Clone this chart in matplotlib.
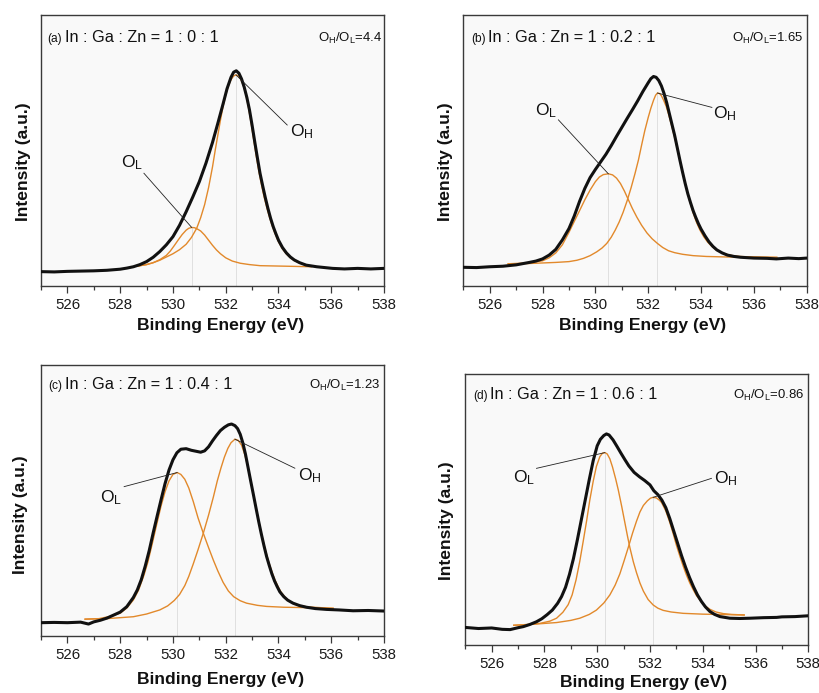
import matplotlib
matplotlib.use("Agg")
import matplotlib.pyplot as plt
from matplotlib import font_manager, transforms
from matplotlib.ticker import MultipleLocator, NullLocator

# ---------------------------------------------------------------- data
# O 1s XPS spectra of IGZO films; energies in eV, intensities in a.u.

# (a) In:Ga:Zn = 1:0:1
A_E = [525.0, 525.5, 526.0, 526.5, 527.0, 527.5, 528.0, 528.25, 528.5, 528.75,
       529.0, 529.25, 529.5, 529.75, 530.0, 530.25, 530.5, 530.75, 531.0, 531.25,
       531.5, 531.7, 531.9, 532.05, 532.2, 532.3, 532.4, 532.5, 532.6, 532.7,
       532.8, 532.9, 533.0, 533.1, 533.2, 533.3, 533.4, 533.5, 533.6, 533.7,
       533.8, 533.9, 534.0, 534.15, 534.3, 534.45, 534.6, 534.8, 535.05, 535.45,
       536.05, 536.5, 537.0, 537.5, 538.0]
A_I = [5.3, 5.2, 5.4, 5.5, 5.6, 5.8, 6.2, 6.6, 7.1, 7.9,
       9.0, 10.6, 12.7, 15.2, 18.2, 22.4, 27.4, 32.8, 38.5, 45.3,
       53.0, 60.0, 67.2, 72.8, 77.0, 78.9, 79.4, 78.5, 76.4, 73.4,
       69.6, 65.0, 59.3, 53.2, 47.3, 41.6, 37.0, 32.6, 28.6, 25.0,
       21.9, 19.3, 16.9, 14.2, 12.2, 10.7, 9.6, 8.6, 7.7, 7.1,
       6.5, 6.3, 6.5, 6.3, 6.5]
A_OL_E = [528.69, 529.0, 529.25, 529.5, 529.75, 529.9, 530.05, 530.2, 530.35, 530.5,
          530.6, 530.71, 530.82, 530.93, 531.05, 531.2, 531.35, 531.5, 531.65, 531.8,
          532.0, 532.25, 532.55, 532.9, 533.3, 534.3, 535.25]
A_OL_I = [7.4, 7.9, 8.6, 9.7, 11.3, 12.9, 14.9, 17.0, 19.0, 20.6,
          21.3, 21.6, 21.5, 21.0, 20.3, 18.8, 16.9, 15.0, 13.3, 11.9,
          10.4, 9.2, 8.4, 7.9, 7.5, 7.3, 7.1]
A_OH_E = [528.69, 529.0, 529.25, 529.5, 529.75, 530.0, 530.25, 530.5, 530.7, 530.9,
          531.05, 531.2, 531.35, 531.5, 531.6, 531.7, 531.8, 531.9, 532.0, 532.1,
          532.2, 532.3, 532.39, 532.48, 532.57, 532.66, 532.75, 532.85, 532.95, 533.05,
          533.15, 533.25, 533.35, 533.45, 533.55, 533.65, 533.75, 533.85, 534.0, 534.15,
          534.3, 534.45, 534.6, 534.8, 535.0, 535.25]
A_OH_I = [7.4, 7.9, 8.6, 9.5, 10.7, 11.9, 13.4, 15.4, 17.9, 21.3,
          25.2, 30.0, 36.3, 44.0, 50.0, 55.6, 61.2, 66.3, 70.5, 73.8,
          76.1, 77.5, 77.9, 77.5, 76.3, 74.2, 71.2, 66.6, 60.8, 54.6,
          48.4, 42.6, 37.6, 33.1, 29.2, 25.7, 22.5, 19.8, 16.3, 13.7,
          11.8, 10.4, 9.4, 8.5, 7.9, 7.3]

# (b) In:Ga:Zn = 1:0.2:1
B_E = [525.0, 525.5, 526.0, 526.5, 527.0, 527.5, 527.75, 528.0, 528.25, 528.5,
       528.75, 529.0, 529.2, 529.4, 529.6, 529.8, 530.0, 530.2, 530.4, 530.6,
       530.8, 531.0, 531.2, 531.4, 531.6, 531.8, 532.0, 532.1, 532.2, 532.3,
       532.4, 532.5, 532.6, 532.7, 532.8, 532.9, 533.0, 533.1, 533.2, 533.3,
       533.4, 533.5, 533.6, 533.7, 533.8, 533.9, 534.0, 534.15, 534.3, 534.45,
       534.6, 534.8, 535.0, 535.25, 535.5, 536.0, 536.5, 536.85, 537.3, 537.7, 538.0]
B_I = [6.9, 6.8, 7.1, 7.3, 7.8, 8.7, 9.2, 10.0, 11.4, 13.5,
       17.0, 21.2, 25.8, 31.2, 36.0, 40.0, 43.0, 45.8, 48.6, 51.8,
       55.2, 58.5, 61.8, 65.0, 68.3, 71.8, 75.0, 76.5, 77.3, 77.0,
       75.8, 73.8, 71.0, 67.6, 63.6, 59.6, 55.6, 51.0, 46.4, 42.0,
       37.8, 34.0, 30.8, 27.8, 25.3, 23.0, 21.0, 18.5, 16.3, 14.6,
       13.3, 12.2, 11.4, 10.9, 10.6, 10.3, 10.2, 10.0, 10.3, 10.1, 10.3]
B_OL_E = [526.7, 527.2, 527.6, 528.0, 528.25, 528.5, 528.75, 529.0, 529.2, 529.4,
          529.6, 529.8, 530.0, 530.15, 530.3, 530.49, 530.65, 530.8, 530.95, 531.1,
          531.25, 531.4, 531.57, 531.75, 531.95, 532.15, 532.35, 532.55, 532.77, 533.0,
          533.3, 533.7, 534.2, 535.0, 536.87]
B_OL_I = [8.2, 8.4, 8.7, 9.3, 10.4, 12.2, 15.2, 19.8, 23.8, 27.8,
          31.8, 35.4, 38.5, 40.2, 41.1, 41.4, 41.0, 39.8, 37.8, 35.0,
          31.8, 28.6, 25.4, 22.4, 19.6, 17.4, 15.7, 14.2, 13.0, 12.3,
          11.7, 11.2, 10.9, 10.7, 10.6]
B_OH_E = [526.7, 527.5, 528.0, 528.5, 529.0, 529.3, 529.55, 529.8, 530.05, 530.25,
          530.43, 530.6, 530.75, 530.9, 531.05, 531.2, 531.35, 531.5, 531.63, 531.75,
          531.87, 532.0, 532.1, 532.2, 532.28, 532.35, 532.43, 532.5, 532.58, 532.68,
          532.77, 532.88, 533.0, 533.1, 533.2, 533.33, 533.45, 533.57, 533.7, 533.82,
          533.95, 534.1, 534.25, 534.4, 534.55, 534.71, 534.96, 535.2, 535.47, 536.0, 536.86]
B_OH_I = [8.2, 8.3, 8.5, 8.7, 9.0, 9.5, 10.2, 11.2, 12.6, 14.0,
          15.7, 18.0, 20.6, 23.6, 27.2, 31.4, 36.2, 41.5, 46.5, 52.0,
          57.3, 62.2, 65.6, 68.5, 70.4, 71.2, 71.0, 70.2, 68.6, 66.3,
          63.4, 59.4, 54.8, 50.6, 46.4, 40.8, 35.9, 31.3, 27.0, 23.7,
          20.8, 18.2, 16.2, 14.7, 13.5, 12.6, 11.7, 11.2, 10.9, 10.7, 10.5]

# (c) In:Ga:Zn = 1:0.4:1
C_E = [525.0, 525.5, 526.0, 526.5, 526.8, 527.0, 527.25, 527.5, 527.75, 528.0,
       528.25, 528.5, 528.65, 528.8, 528.95, 529.1, 529.25, 529.4, 529.55, 529.7,
       529.85, 530.0, 530.15, 530.3, 530.5, 530.7, 530.9, 531.05, 531.2, 531.35,
       531.5, 531.65, 531.8, 531.95, 532.1, 532.22, 532.35, 532.45, 532.55, 532.65,
       532.75, 532.85, 532.95, 533.05, 533.15, 533.25, 533.35, 533.45, 533.55, 533.65,
       533.75, 533.85, 533.95, 534.05, 534.2, 534.35, 534.55, 534.8, 535.06, 535.4,
       535.82, 536.3, 536.83, 537.4, 538.0]
C_I = [4.9, 5.0, 4.9, 5.1, 4.4, 5.2, 5.8, 6.6, 7.7, 8.8,
       10.8, 14.2, 17.0, 20.8, 25.8, 31.5, 38.0, 44.2, 50.3, 56.2,
       61.2, 65.0, 67.6, 68.9, 69.1, 68.5, 68.1, 67.8, 68.3, 69.8,
       72.0, 74.0, 75.8, 77.0, 77.9, 78.2, 77.6, 76.5, 74.4, 71.2,
       67.0, 62.0, 57.0, 52.1, 47.1, 42.2, 37.6, 33.3, 29.3, 26.0,
       22.9, 20.3, 18.2, 16.3, 14.5, 13.2, 12.1, 11.2, 10.6, 10.1,
       9.8, 9.6, 9.3, 9.4, 9.2]
C_OL_E = [526.67, 527.2, 527.6, 528.0, 528.25, 528.5, 528.7, 528.9, 529.05, 529.2,
          529.38, 529.55, 529.7, 529.85, 530.0, 530.16, 530.3, 530.45, 530.6, 530.77,
          530.95, 531.15, 531.35, 531.53, 531.7, 531.9, 532.1, 532.3, 532.55, 532.79,
          533.2, 533.55, 534.2, 534.81, 536.07]
C_OL_I = [6.2, 6.4, 7.2, 8.4, 10.3, 13.3, 17.0, 22.4, 27.3, 33.4,
          41.0, 48.0, 53.2, 57.2, 59.6, 60.3, 59.6, 57.8, 54.6, 49.6,
          43.6, 37.9, 32.6, 28.0, 24.0, 19.8, 16.6, 14.5, 13.0, 12.1,
          11.3, 10.9, 10.6, 10.5, 10.2]
C_OH_E = [526.67, 527.5, 528.5, 529.0, 529.5, 529.8, 530.05, 530.25, 530.45, 530.6,
          530.77, 530.95, 531.15, 531.35, 531.53, 531.68, 531.82, 531.95, 532.08, 532.2,
          532.35, 532.47, 532.6, 532.72, 532.85, 532.97, 533.1, 533.23, 533.36, 533.48,
          533.61, 533.74, 533.86, 534.0, 534.11, 534.27, 534.43, 534.6, 534.81, 535.05,
          535.32, 536.07]
C_OH_I = [6.2, 6.4, 7.1, 8.1, 9.6, 11.1, 13.1, 15.3, 18.6, 22.0,
          26.6, 31.8, 37.9, 44.6, 51.2, 57.2, 62.0, 66.0, 69.2, 71.3,
          72.6, 72.2, 70.4, 67.0, 62.0, 56.0, 49.6, 43.4, 37.4, 32.6,
          27.9, 24.0, 20.8, 17.9, 16.0, 14.1, 12.8, 11.9, 11.2, 10.8,
          10.6, 10.2]

# (d) In:Ga:Zn = 1:0.6:1
D_E = [525.0, 525.5, 526.0, 526.4, 526.7, 527.0, 527.2, 527.45, 527.7, 527.9,
       528.1, 528.3, 528.5, 528.65, 528.8, 528.95, 529.1, 529.25, 529.4, 529.55,
       529.7, 529.85, 530.0, 530.12, 530.25, 530.35, 530.45, 530.6, 530.75, 530.9,
       531.05, 531.2, 531.4, 531.6, 531.8, 532.0, 532.15, 532.3, 532.45, 532.6,
       532.75, 532.9, 533.05, 533.2, 533.35, 533.5, 533.65, 533.8, 533.95, 534.1,
       534.27, 534.45, 534.65, 535.03, 535.4, 535.79, 536.3, 536.8, 537.0, 537.5, 538.0]
D_I = [6.6, 6.2, 6.4, 5.9, 5.8, 6.5, 6.9, 7.7, 8.7, 9.8,
       11.3, 13.0, 15.5, 18.0, 21.4, 26.2, 32.0, 39.0, 46.4, 53.8,
       61.2, 68.2, 73.6, 76.0, 77.4, 78.0, 77.6, 75.8, 73.4, 70.9,
       68.5, 66.2, 63.8, 62.2, 60.8, 59.2, 57.0, 55.6, 53.6, 50.8,
       46.8, 42.2, 37.6, 33.0, 28.8, 25.0, 21.6, 18.6, 16.2, 14.2,
       12.5, 11.4, 10.6, 10.0, 9.9, 10.0, 10.2, 10.3, 10.5, 10.6, 10.9]
D_OL_E = [526.84, 527.4, 527.83, 528.2, 528.46, 528.7, 528.9, 529.05, 529.2, 529.34,
          529.47, 529.6, 529.72, 529.85, 529.97, 530.1, 530.2, 530.29, 530.38, 530.48,
          530.58, 530.7, 530.8, 530.93, 531.05, 531.15, 531.24, 531.37, 531.49, 531.62,
          531.75, 531.93, 532.12, 532.3, 532.5, 532.8, 533.26, 534.0, 534.52, 535.57]
D_OL_I = [7.4, 7.7, 8.1, 8.9, 10.0, 12.2, 15.0, 18.6, 24.2, 31.0,
          38.4, 46.0, 53.6, 60.6, 66.0, 69.6, 70.9, 71.1, 70.6, 68.8,
          65.8, 61.4, 57.3, 51.2, 45.2, 40.2, 36.0, 30.8, 26.8, 23.0,
          20.0, 16.9, 14.9, 13.7, 12.9, 12.3, 11.8, 11.5, 11.4, 11.2]
D_OH_E = [526.84, 527.6, 528.46, 529.0, 529.34, 529.7, 529.97, 530.25, 530.48, 530.68,
          530.86, 531.02, 531.18, 531.34, 531.49, 531.62, 531.75, 531.9, 532.02, 532.12,
          532.24, 532.35, 532.44, 532.6, 532.75, 532.88, 533.0, 533.13, 533.26, 533.38,
          533.51, 533.64, 533.76, 533.9, 534.02, 534.15, 534.27, 534.5, 534.78, 535.1, 535.57]
D_OH_I = [7.4, 7.8, 8.4, 9.2, 10.0, 11.4, 13.0, 15.6, 18.6, 22.2,
          26.4, 31.2, 36.2, 41.4, 45.8, 49.2, 51.6, 53.3, 54.3, 54.6,
          54.4, 53.6, 52.7, 49.6, 45.4, 41.2, 37.0, 33.0, 29.2, 26.0,
          23.0, 20.5, 18.4, 16.6, 15.2, 14.1, 13.3, 12.3, 11.7, 11.4, 11.2]

TAGS = ["(a)", "(b)", "(c)", "(d)"]
RATIOS_GA = ["0", "0.2", "0.4", "0.6"]
OH_OL_RATIO = ["4.4", "1.65", "1.23", "0.86"]
X_TICKS = [526, 528, 530, 532, 534, 536, 538]

# ---------------------------------------------------------------- style
names = {f.name for f in font_manager.fontManager.ttflist}
NARROW = "Liberation Sans Narrow" in names
FAMILY = "Liberation Sans Narrow" if NARROW else "Liberation Sans"
K = 1.0 if NARROW else 0.9   # size scale for a wider face

plt.rcParams["font.family"] = [FAMILY, "DejaVu Sans"]
plt.rcParams["mathtext.fontset"] = "custom"
plt.rcParams["mathtext.rm"] = FAMILY
plt.rcParams["mathtext.it"] = FAMILY
plt.rcParams["mathtext.default"] = "regular"

BLACK = "#111111"
ORANGE = "#e2892b"
SPINE = "#3a3a3a"
FACE = "#f9f9f9"

fig = plt.figure(figsize=(8.19, 6.93), dpi=100)
fig.patch.set_facecolor("white")

# axes rectangles [left, bottom, width, height] in figure fractions
rects = [
    [0.0501, 0.5873, 0.4188, 0.3911],
    [0.5657, 0.5873, 0.4193, 0.3911],
    [0.0501, 0.0823, 0.4188, 0.3911],
    [0.5681, 0.0688, 0.4188, 0.3911],
]

series = [
    (A_E, A_I, A_OL_E, A_OL_I, A_OH_E, A_OH_I),
    (B_E, B_I, B_OL_E, B_OL_I, B_OH_E, B_OH_I),
    (C_E, C_I, C_OL_E, C_OL_I, C_OH_E, C_OH_I),
    (D_E, D_I, D_OL_E, D_OL_I, D_OH_E, D_OH_I),
]

# label placement per panel: (text x, text baseline y, line end x, line end y)
ol_labels = [
    (528.86, 43.9, 528.9, 41.6),
    (528.55, 63.1, 528.6, 61.3),
    (528.08, 49.4, 528.15, 55.1),
    (527.64, 60.3, 527.70, 65.3),
]
oh_labels = [
    (534.43, 55.1, 534.33, 59.4),
    (534.46, 62.0, 534.41, 65.9),
    (534.73, 57.6, 534.62, 61.9),
    (534.42, 59.9, 534.33, 61.6),
]
ylabel_pos = [(-0.050, 0.457), (-0.053, 0.457), (-0.061, 0.446), (-0.054, 0.459)]
xlabel_pos = [(0.522, -0.144), (0.522, -0.144), (0.522, -0.162), (0.521, -0.139)]
title_pos = [(0.018, 0.902), (0.022, 0.902), (0.020, 0.910), (0.022, 0.910)]
ratio_pos = [(0.994, 0.902), (0.991, 0.902), (0.990, 0.910), (0.990, 0.910)]

renderer = fig.canvas.get_renderer()

for i, rect in enumerate(rects):
    ax = fig.add_axes(rect)
    ax.set_facecolor(FACE)
    e, inten, ol_e, ol_i, oh_e, oh_i = series[i]

    # faint guide lines under each component maximum
    for ce, ci in ((ol_e, ol_i), (oh_e, oh_i)):
        k = ci.index(max(ci))
        ax.vlines(ce[k], 0, ci[k], color="#dcdcdc", lw=0.6, zorder=1)

    ax.plot(ol_e, ol_i, color=ORANGE, lw=1.0, zorder=2)
    ax.plot(oh_e, oh_i, color=ORANGE, lw=1.0, zorder=2)
    ax.plot(e, inten, color=BLACK, lw=2.2, zorder=3,
            solid_joinstyle="round", solid_capstyle="round")

    # component labels with leader lines
    k = ol_i.index(max(ol_i))
    tx, ty, lx, ly = ol_labels[i]
    ax.plot([lx, ol_e[k]], [ly, ol_i[k]], color="#222222", lw=0.6, zorder=4)
    ax.text(tx, ty, r"$\mathregular{O_L}$", ha="right", va="baseline",
            fontsize=14 * K, color=BLACK)
    k = oh_i.index(max(oh_i))
    tx, ty, lx, ly = oh_labels[i]
    ax.plot([oh_e[k], lx], [oh_i[k], ly], color="#222222", lw=0.6, zorder=4)
    ax.text(tx, ty, r"$\mathregular{O_H}$", ha="left", va="baseline",
            fontsize=14 * K, color=BLACK)

    ax.set_xlim(525, 538)
    ax.set_ylim(0, 100)
    ax.set_xticks(X_TICKS)
    ax.xaxis.set_minor_locator(MultipleLocator(1))
    ax.yaxis.set_major_locator(NullLocator())
    ax.tick_params(axis="x", which="major", direction="out", length=5,
                   width=0.9, color=SPINE, pad=3.5, labelsize=12 * K,
                   labelcolor="#1a1a1a")
    ax.tick_params(axis="x", which="minor", direction="out", length=3,
                   width=0.9, color=SPINE)
    for s in ax.spines.values():
        s.set_color(SPINE)
        s.set_linewidth(1.0)

    # axis titles
    xl, yl = xlabel_pos[i]
    ax.text(xl, yl, "Binding Energy (eV)", transform=ax.transAxes,
            ha="center", va="center", fontsize=14 * K, fontweight="bold",
            color=BLACK)
    xl, yl = ylabel_pos[i]
    ax.text(xl, yl, "Intensity (a.u.)", transform=ax.transAxes,
            ha="center", va="center", rotation=90, fontsize=14 * K,
            fontweight="bold", color=BLACK)

    # composition caption
    px, py = title_pos[i]
    tag = ax.text(px, py, TAGS[i], transform=ax.transAxes, ha="left",
                  va="baseline", fontsize=9.5 * K, color=BLACK)
    w = tag.get_window_extent(renderer=renderer).width * 72.0 / fig.dpi
    tr = transforms.offset_copy(ax.transAxes, fig=fig, x=w + 2.0, y=0,
                                units="points")
    ax.text(px, py, "In : Ga : Zn = 1 : %s : 1" % RATIOS_GA[i], transform=tr,
            ha="left", va="baseline", fontsize=13 * K, color=BLACK)

    rx, ry = ratio_pos[i]
    ax.text(rx, ry, r"$\mathregular{O_H/O_L}$=%s" % OH_OL_RATIO[i],
            transform=ax.transAxes, ha="right", va="baseline",
            fontsize=10.5 * K, color=BLACK)

fig.savefig("out.png", dpi=100, facecolor="white")
